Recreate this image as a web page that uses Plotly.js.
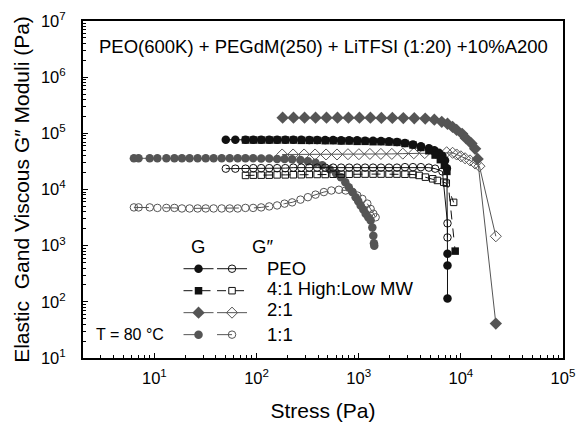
<!DOCTYPE html>
<html><head><meta charset="utf-8">
<script src="https://cdn.plot.ly/plotly-3.0.1.min.js"></script>
<style>html,body{margin:0;padding:0;background:#fff}#chart{width:577px;height:422px}</style>
</head><body><div id="chart"></div>
<script>
// Stress (Pa) and moduli (Pa)
const stressPEO_Gp = [50, 62, 78, 93, 111, 133, 159, 191, 229, 274, 328, 392, 470, 562, 673, 806, 965, 1155, 1382, 1654, 1980, 2370, 2837, 3396, 4065, 4866, 5500, 6100, 6600, 7000, 7300, 7400, 7400, 7400];
const PEO_Gp = [77000, 77000, 77000, 77000, 77000, 77000, 77000, 77000, 77000, 77000, 76000, 76000, 76000, 76000, 75000, 75000, 75000, 74000, 74000, 73000, 72000, 70000, 67000, 63000, 59000, 54000, 50000, 45000, 40000, 33000, 24000, 715, 442, 115];

const stressPEO_Gpp = [50, 62, 78, 93, 111, 133, 159, 191, 229, 274, 328, 392, 470, 562, 673, 806, 965, 1155, 1382, 1654, 1980, 2370, 2837, 3396, 4065, 4866, 5600, 6600, 7400, 7400];
const PEO_Gpp = [23500, 23500, 23500, 24000, 24000, 24000, 24000, 24000, 24500, 24500, 24500, 24500, 24500, 24500, 24500, 24500, 24500, 24500, 24500, 24500, 24500, 24500, 25000, 25000, 25000, 24500, 23500, 21000, 2500, 1400];

const stress41_Gp = [78, 93, 111, 133, 159, 191, 229, 274, 328, 392, 470, 562, 673, 806, 965, 1155, 1382, 1654, 1980, 2370, 2837, 3396, 4065, 4866, 5600, 6300, 6900, 7300, 8800];
const r41_Gp = [76000, 76000, 76000, 76000, 76000, 76000, 76000, 75000, 75000, 75000, 74000, 74000, 73000, 73000, 72000, 72000, 71000, 71000, 70000, 69000, 66000, 62000, 56000, 49000, 41000, 34000, 27000, 21000, 800];

const stress41_Gpp = [78, 93, 111, 133, 159, 191, 229, 274, 328, 392, 470, 562, 673, 806, 965, 1155, 1382, 1654, 1980, 2370, 2837, 3396, 3900, 4500, 5300, 5900, 6800, 7200, 8500];
const r41_Gpp = [17800, 18000, 18000, 18000, 18200, 18200, 18300, 18300, 18500, 18500, 18500, 18700, 18700, 18700, 18800, 18800, 18800, 18800, 18800, 18800, 18700, 18500, 17800, 16600, 15500, 14500, 13500, 13000, 5900];

const stress21_Gp = [180, 230, 295, 378, 484, 620, 794, 1017, 1302, 1667, 2135, 2734, 3500, 4480, 5500, 6500, 7400, 8300, 9100, 10300, 11200, 12700, 13800, 14600, 22000];
const r21_Gp = [190000, 190000, 190000, 190000, 190000, 190000, 190000, 190000, 190000, 188000, 188000, 187000, 186000, 183000, 175000, 160000, 148000, 130000, 115000, 98000, 82000, 66000, 53000, 35000, 41];

const stress21_Gpp = [178, 228, 292, 374, 479, 613, 785, 1005, 1287, 1648, 2110, 2702, 3460, 4430, 5670, 7260, 8300, 9100, 10000, 11000, 12300, 13800, 15200, 22000];
const r21_Gpp = [42000, 42000, 42000, 42000, 42000, 42000, 42500, 42500, 43000, 43000, 43000, 43500, 44000, 44500, 45000, 46000, 45000, 42000, 39000, 36000, 33000, 29000, 26000, 1470];

const stress11_Gp = [6.3, 7.0, 9.0, 10.7, 13.1, 15.7, 18.6, 22.1, 26.5, 31.8, 38, 45.6, 54.6, 65.4, 77.8, 92.6, 111, 133, 159, 188, 223, 269, 318, 378, 440, 520, 600, 670, 740, 800, 870, 933, 990, 1045, 1110, 1170, 1240, 1310, 1360, 1390, 1410, 1420];
const r11_Gp = [36000, 36000, 36000, 36000, 36000, 36000, 36000, 36000, 36000, 36000, 36000, 36000, 36000, 36000, 36000, 36000, 35500, 35500, 35000, 35000, 34500, 33500, 32000, 30000, 27000, 23000, 19500, 16600, 13500, 11000, 9000, 7300, 6200, 5200, 4400, 3700, 3200, 2800, 2100, 1500, 1100, 1000];

const stress11_Gpp = [6.3, 7.0, 9.0, 10.7, 13.1, 15.7, 18.6, 22.1, 26.5, 31.8, 38, 45.6, 54.6, 65.4, 77.8, 92.6, 111, 133, 159, 188, 223, 269, 318, 378, 456, 540, 640, 745, 866, 969, 1085, 1214, 1309, 1391, 1465];
const r11_Gpp = [4800, 4800, 4800, 4700, 4700, 4700, 4600, 4600, 4600, 4600, 4600, 4600, 4600, 4600, 4700, 4700, 4800, 5000, 5200, 5600, 5900, 6600, 7300, 8100, 9000, 9600, 9900, 9600, 9000, 7800, 6800, 5600, 4500, 3700, 3200];

const seriesLabels = ['PEO', '4:1 High:Low MW', '2:1', '1:1'];
const xTickVals = [10, 100, 1000, 10000, 100000];
const xTickText = ['10<sup>1</sup>', '10<sup>2</sup>', '10<sup>3</sup>', '10<sup>4</sup>', '10<sup>5</sup>'];
const yTickVals = [10, 100, 1000, 10000, 100000, 1000000, 10000000];
const yTickText = ['10<sup>1</sup>', '10<sup>2</sup>', '10<sup>3</sup>', '10<sup>4</sup>', '10<sup>5</sup>', '10<sup>6</sup>', '10<sup>7</sup>'];

const BLACK = '#111111', GRAY = '#555555';
function tr(x, y, sym, color, dash, size, legend) {
  const open = sym.indexOf('open') >= 0;
  return {
    x: x, y: y, type: 'scatter', mode: 'lines+markers', name: '',
    legend: legend, showlegend: true, hoverinfo: 'x+y',
    line: {color: color, width: 1, dash: dash},
    marker: {symbol: sym, size: size, color: color, line: {color: color, width: open ? 1 : 0}}
  };
}
const data = [
  tr(stress11_Gpp, r11_Gpp, 'circle-open', GRAY, 'longdash', 7.5, 'legend2'),
  tr(stress11_Gp, r11_Gp, 'circle', GRAY, 'longdash', 8.5, 'legend'),
  tr(stress41_Gpp, r41_Gpp, 'square-open', BLACK, 'dash', 6.5, 'legend2'),
  tr(stressPEO_Gpp, PEO_Gpp, 'circle-open', BLACK, 'solid', 7.5, 'legend2'),
  tr(stress21_Gpp, r21_Gpp, 'diamond-open', GRAY, 'solid', 8.5, 'legend2'),
  tr(stressPEO_Gp, PEO_Gp, 'circle', BLACK, 'solid', 8.5, 'legend'),
  tr(stress41_Gp, r41_Gp, 'square', BLACK, 'dash', 7.5, 'legend'),
  tr(stress21_Gp, r21_Gp, 'diamond', GRAY, 'solid', 9.5, 'legend')
];
// legend order: PEO, 4:1, 2:1, 1:1
data[5].legendrank = 1; data[6].legendrank = 2; data[7].legendrank = 3; data[1].legendrank = 4;
data[3].legendrank = 1; data[2].legendrank = 2; data[4].legendrank = 3; data[0].legendrank = 4;

const FONT = 'Liberation Sans, Arial, sans-serif';
const rowY = [0.2648, 0.2055, 0.1431, 0.0689];
const annotations = [
  {xref:'paper', yref:'paper', x:0.029, y:0.923, xanchor:'left', yanchor:'middle', showarrow:false,
   text:'PEO(600K) + PEGdM(250) + LiTFSI (1:20) +10%A200', font:{size:18.5, color:'#000', family:FONT}},
  {xref:'paper', yref:'paper', x:0.023, y:0.069, xanchor:'left', yanchor:'middle', showarrow:false,
   text:'T = 80 °C', font:{size:16, color:'#000', family:FONT}},
  {xref:'paper', yref:'paper', x:0.240, y:0.330, xanchor:'center', yanchor:'middle', showarrow:false,
   text:'G', font:{size:18.5, color:'#000', family:FONT}},
  {xref:'paper', yref:'paper', x:0.3485, y:0.330, xanchor:'left', yanchor:'middle', showarrow:false,
   text:'G″', font:{size:18.5, color:'#000', family:FONT}}
];
seriesLabels.forEach((t, i) => annotations.push({xref:'paper', yref:'paper', x:0.3798, y:rowY[i],
  xanchor:'left', yanchor:'middle', showarrow:false, text:t, font:{size:18.5, color:'#000', family:FONT}}));

const axisCommon = {
  type:'log', showline:true, linecolor:'#000', linewidth:2, mirror:true, showgrid:false, zeroline:false,
  ticks:'inside', ticklen:5, tickwidth:1, tickcolor:'#000',
  minor:{ticks:'inside', ticklen:3, tickwidth:1, tickcolor:'#000', dtick:'D1', showgrid:false},
  tickmode:'array', tickfont:{size:16.5, color:'#000', family:FONT}
};
const layout = {
  width:577, height:422, paper_bgcolor:'#fff', plot_bgcolor:'#fff',
  margin:{l:83, r:14, t:21, b:64, pad:0},
  font:{family:FONT, color:'#000'},
  showlegend:true,
  xaxis: Object.assign({}, axisCommon, {range:[0.30103, 5], tickvals:xTickVals, ticktext:xTickText,
    title:{text:'Stress (Pa)', font:{size:21, color:'#000', family:FONT}, standoff:18}, ticklabelstandoff:4}),
  yaxis: Object.assign({}, axisCommon, {range:[1, 7], tickvals:yTickVals, ticktext:yTickText,
    title:{text:'Elastic\u00a0 Gand Viscous G″ Moduli (Pa)', font:{size:21, color:'#000', family:FONT}, standoff:6}, ticklabelstandoff:12}),
  legend:{x:0.199, y:0.3124, xanchor:'left', yanchor:'top', bgcolor:'rgba(0,0,0,0)', borderwidth:0,
    font:{size:14.6, family:FONT}, tracegroupgap:0},
  legend2:{x:0.2688, y:0.3124, xanchor:'left', yanchor:'top', bgcolor:'rgba(0,0,0,0)', borderwidth:0,
    font:{size:14.6, family:FONT}, tracegroupgap:0},
  annotations: annotations
};
Plotly.newPlot('chart', data, layout, {displayModeBar:false, staticPlot:true});
</script></body></html>
